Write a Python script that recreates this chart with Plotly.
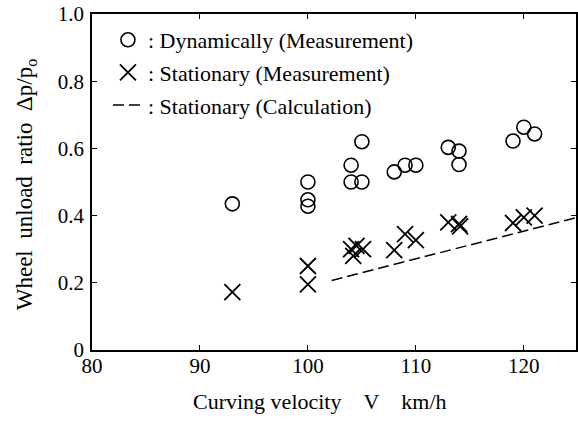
import plotly.graph_objects as go

# Dynamically measured wheel unload ratio
dyn_v = [93, 100, 100, 100, 104, 104, 105, 105, 108, 109, 110, 113, 114, 114, 119, 120, 121]
dyn_r = [0.435, 0.50, 0.447, 0.428, 0.55, 0.50, 0.50, 0.62, 0.53, 0.55, 0.55, 0.603, 0.592, 0.552, 0.622, 0.663, 0.643]

# Stationary measured wheel unload ratio
sta_v = [93, 100, 100, 104, 104.2, 104.5, 105.1, 108, 109, 110, 113, 114, 114.1, 119, 120, 121]
sta_r = [0.172, 0.25, 0.195, 0.30, 0.28, 0.31, 0.30, 0.297, 0.345, 0.327, 0.38, 0.375, 0.368, 0.378, 0.395, 0.40]

# Stationary calculation
calc_v = [102.2, 125]
calc_r = [0.207, 0.395]

x_ticks = [80, 90, 100, 110, 120]
y_ticks = [0, 0.2, 0.4, 0.6, 0.8, 1.0]
y_ticklabels = ["0", "0.2", "0.4", "0.6", "0.8", "1.0"]

FONT = "Liberation Serif"

fig = go.Figure()
fig.add_trace(go.Scatter(
    x=dyn_v, y=dyn_r, mode="markers", name=": Dynamically (Measurement)",
    legendgroup="a",
    marker=dict(symbol="circle-open", size=14, color="black", line=dict(width=1.6, color="black")),
))
fig.add_trace(go.Scatter(
    x=sta_v, y=sta_r, mode="markers", name=": Stationary (Measurement)",
    legendgroup="b",
    marker=dict(symbol="x-thin-open", size=16, color="black", line=dict(width=1.8, color="black")),
))
fig.add_trace(go.Scatter(
    x=calc_v, y=calc_r, mode="lines", name=": Stationary (Calculation)",
    legendgroup="c",
    line=dict(color="black", width=1.5, dash="11px,5px"),
))

W, H = 578, 423
L, R, T, B = 92, 0, 14, 73
pw = W - L - R
ph = H - T - B

fig.update_layout(
    width=W, height=H,
    margin=dict(l=L, r=R, t=T, b=B, pad=0),
    paper_bgcolor="white", plot_bgcolor="white",
    font=dict(family=FONT, size=20, color="black"),
    showlegend=True,
    legend=dict(
        x=(108 - L) / pw, y=1 - (19 - T) / ph, xanchor="left", yanchor="top",
        bgcolor="rgba(0,0,0,0)", font=dict(size=22, family=FONT, color="black"),
        traceorder="grouped", tracegroupgap=1, itemwidth=30,
    ),
    xaxis=dict(
        range=[80, 80 + pw / 10.84], tickvals=x_ticks, ticktext=[str(v) for v in x_ticks],
        ticks="inside", ticklen=5, tickwidth=1.3, tickcolor="black",
        showline=True, linewidth=1.6, linecolor="black", mirror="ticks",
        showgrid=False, zeroline=False, tickfont=dict(size=21, family=FONT),
        ticklabelstandoff=-4,
    ),
    yaxis=dict(
        range=[0, 1.0], tickvals=y_ticks, ticktext=y_ticklabels,
        ticks="inside", ticklen=5, tickwidth=1.3, tickcolor="black",
        showline=True, linewidth=1.6, linecolor="black", mirror="ticks",
        showgrid=False, zeroline=False, tickfont=dict(size=21, family=FONT),
        ticklabelstandoff=2,
    ),
    annotations=[
        dict(text="Curving velocity" + "\u00a0" * 4 + "V" + "\u00a0" * 4 + "km/h",
             xref="paper", yref="paper", x=(321 - L) / pw, y=(T + ph - 402) / ph,
             xanchor="center", yanchor="middle", showarrow=False,
             font=dict(size=22, family=FONT, color="black")),
        dict(text="Wheel\u00a0 unload\u00a0 ratio\u00a0 \u0394p/p<sub>o</sub>",
             xref="paper", yref="paper", x=(26 - L) / pw, y=(T + ph - 184) / ph,
             xanchor="center", yanchor="middle", textangle=-90, showarrow=False,
             font=dict(size=23, family=FONT, color="black")),
    ],
)

fig.write_html(
    "out.html",
    config={"displayModeBar": False},
    post_script="document.body.style.margin='0px';document.body.style.overflow='hidden';",
)
